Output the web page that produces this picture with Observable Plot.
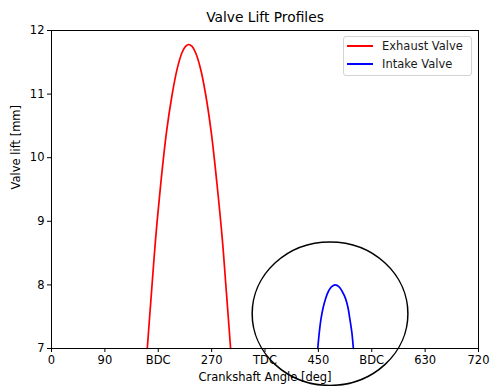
<!DOCTYPE html>
<html><head><meta charset="utf-8">
<script src="https://cdn.jsdelivr.net/npm/d3@7"></script>
<script src="https://cdn.jsdelivr.net/npm/@observablehq/plot@0.6"></script>
<style>
body{margin:0;background:#fff;}
#wrap{position:relative;width:492px;height:386px;font-family:"DejaVu Sans",sans-serif;color:#000;}
.legend{position:absolute;left:343px;top:36px;width:127px;height:38px;border:1px solid #d4d4d4;border-radius:3px;background:rgba(255,255,255,0.85);font-size:11.5px;}
.legend .sw{position:absolute;left:3px;width:26px;height:2px;}
.legend .lb{position:absolute;left:38px;line-height:14px;white-space:nowrap;color:#1a1a1a;}
</style></head>
<body><div id="wrap"></div>
<script>
const exhaustAngle = [161.5, 168.5, 175.5, 184, 194, 203, 212, 220, 226, 231.5, 237, 243, 251, 260, 269.5, 279, 288, 295, 302];
const exhaustLift  = [7.0, 7.87, 8.72, 9.57, 10.41, 10.97, 11.40, 11.65, 11.75, 11.78, 11.75, 11.65, 11.41, 10.99, 10.39, 9.59, 8.72, 7.87, 7.0];
const intakeAngle = [449, 451.5, 454.5, 458, 462, 467, 472, 478.5, 485, 490, 496, 500, 503, 506.5, 509];
const intakeLift  = [7.0, 7.25, 7.47, 7.64, 7.78, 7.9, 7.97, 8.0, 7.97, 7.9, 7.78, 7.64, 7.47, 7.25, 7.0];
const seriesNames = ["Exhaust Valve", "Intake Valve"];
const seriesColors = ["#ff0000", "#0000ff"];
const xTicks = [0, 90, 180, 270, 360, 450, 540, 630, 720];
const xTickLabels = ["0", "90", "BDC", "270", "TDC", "450", "BDC", "630", "720"];
const yTicks = [7, 8, 9, 10, 11, 12];
const highlightCenter = [470.5, 7.54];   // angle, lift
const highlightRadius = [131.3, 1.128];  // angle, lift
const titleText = "Valve Lift Profiles";
const xLabel = "Crankshaft Angle [deg]";
const yLabel = "Valve lift [mm]";

const exhaust = exhaustAngle.map((a, i) => ({angle: a, lift: exhaustLift[i]}));
const intake = intakeAngle.map((a, i) => ({angle: a, lift: intakeLift[i]}));

function ellipseMark(index, scales) {
  const x = scales.x, y = scales.y;
  const cx = x(highlightCenter[0]), cy = y(highlightCenter[1]);
  const rx = Math.abs(x(highlightCenter[0] + highlightRadius[0]) - cx);
  const ry = Math.abs(y(highlightCenter[1] + highlightRadius[1]) - cy);
  return d3.create("svg:ellipse")
    .attr("cx", cx).attr("cy", cy).attr("rx", rx).attr("ry", ry)
    .attr("fill", "none").attr("stroke", "black").attr("stroke-width", 1.5)
    .node();
}

const plot = Plot.plot({
  width: 492, height: 386,
  marginLeft: 51, marginRight: 14, marginTop: 30, marginBottom: 38,
  style: {fontFamily: "DejaVu Sans, sans-serif", fontSize: "11.5px", color: "black", background: "white", overflow: "visible"},
  x: {domain: [0, 720]},
  y: {domain: [7, 12]},
  marks: [
    Plot.axisX({ticks: xTicks, tickFormat: (d) => xTickLabels[xTicks.indexOf(d)], tickSize: 4, tickPadding: 3, label: null, stroke: "black", fill: "black"}),
    Plot.axisY({ticks: yTicks, tickFormat: (d) => String(d), tickSize: 4, tickPadding: 3, label: null, stroke: "black", fill: "black"}),
    Plot.line(exhaust, {x: "angle", y: "lift", stroke: seriesColors[0], strokeWidth: 1.7, curve: "catmull-rom"}),
    Plot.line(intake, {x: "angle", y: "lift", stroke: seriesColors[1], strokeWidth: 1.7, curve: "catmull-rom"}),
    Plot.frame({stroke: "black", strokeWidth: 1}),
    ellipseMark,
    Plot.text([titleText], {frameAnchor: "top", dy: -13, text: (d) => d, fontSize: 13.8, fill: "black", lineAnchor: "middle"}),
    Plot.text([xLabel], {frameAnchor: "bottom", dy: 29, text: (d) => d, fontSize: 11.5, fill: "black", lineAnchor: "middle"}),
    Plot.text([yLabel], {frameAnchor: "left", dx: -35, rotate: -90, text: (d) => d, fontSize: 11.5, fill: "black", lineAnchor: "middle"})
  ]
});
const wrap = document.getElementById("wrap");
wrap.appendChild(plot);

const legend = document.createElement("div");
legend.className = "legend";
seriesNames.forEach((name, i) => {
  const sw = document.createElement("div");
  sw.className = "sw";
  sw.style.top = (7.5 + i * 18.3) + "px";
  sw.style.background = seriesColors[i];
  const lb = document.createElement("div");
  lb.className = "lb";
  lb.style.top = (1.5 + i * 18.3) + "px";
  lb.textContent = name;
  legend.appendChild(sw);
  legend.appendChild(lb);
});
wrap.appendChild(legend);
</script>
</body></html>
